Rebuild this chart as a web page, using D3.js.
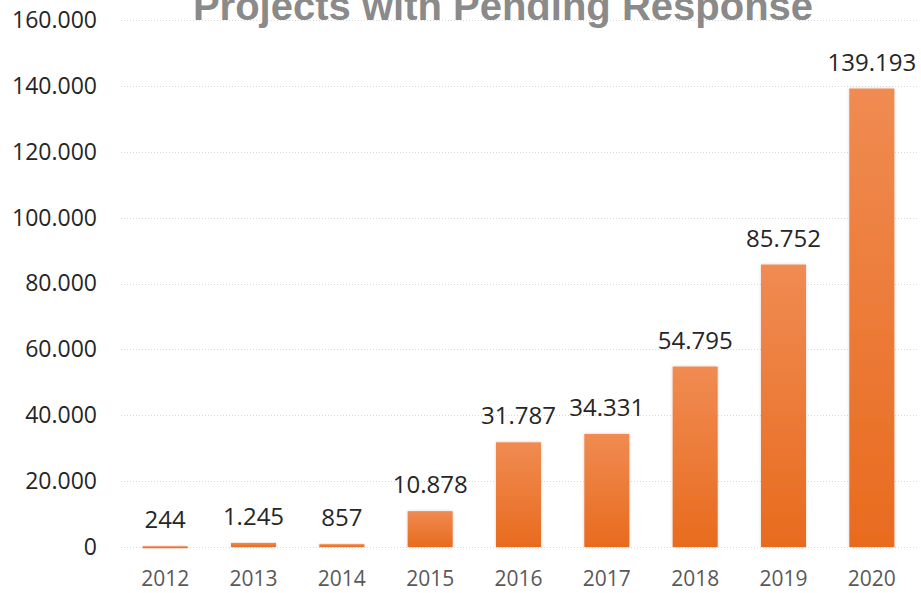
<!DOCTYPE html>
<html>
<head>
<meta charset="utf-8">
<script src="https://cdn.jsdelivr.net/npm/d3@7"></script>
<style>
  html, body { margin: 0; padding: 0; background: #fff; }
  svg { display: block; }
</style>
</head>
<body>
<svg id="chart" width="921" height="593"></svg>
<script>
const title = "Projects with Pending Response";
const years = ["2012", "2013", "2014", "2015", "2016", "2017", "2018", "2019", "2020"];
const pending = [244, 1245, 857, 10878, 31787, 34331, 54795, 85752, 139193];
const yTicks = [0, 20000, 40000, 60000, 80000, 100000, 120000, 140000, 160000];

const svg = d3.select("#chart");
const W = 921, H = 593;
const margin = { left: 121, right: 5, top: 20, bottom: 46 };

const fmt = d3.formatLocale({ decimal: ",", thousands: ".", grouping: [3], currency: ["", ""] }).format(",d");

const x = d3.scaleBand().domain(years).range([margin.left, W - margin.right]).paddingInner(0.49).paddingOuter(0.245);
const y = d3.scaleLinear().domain([0, 160000]).range([H - margin.bottom, margin.top]);

const defs = svg.append("defs");
const grad = defs.append("linearGradient").attr("id", "barGrad").attr("x1", 0).attr("y1", 0).attr("x2", 0).attr("y2", 1);
grad.append("stop").attr("offset", "0%").attr("stop-color", "#f08b52");
grad.append("stop").attr("offset", "100%").attr("stop-color", "#e86b1e");
const f = defs.append("filter").attr("id", "shadow").attr("x", "-20%").attr("y", "-20%").attr("width", "140%").attr("height", "140%");
f.append("feDropShadow").attr("dx", 0).attr("dy", 0).attr("stdDeviation", 1.5).attr("flood-color", "#000").attr("flood-opacity", 0.18);

// gridlines
svg.append("g").selectAll("line").data(yTicks).join("line")
  .attr("x1", margin.left).attr("x2", W - 3)
  .attr("y1", d => Math.round(y(d)) + 0.5).attr("y2", d => Math.round(y(d)) + 0.5)
  .attr("stroke", "#d9d9d9").attr("stroke-width", 1).attr("stroke-dasharray", "1,2");

// y axis labels
const yAxis = d3.axisLeft(y).tickValues(yTicks).tickFormat(fmt).tickSize(0).tickPadding(0);
const gy = svg.append("g").attr("transform", `translate(97,0)`).call(yAxis);
gy.select(".domain").remove();
gy.selectAll("text").attr("font-family", "'Open Sans', sans-serif").attr("font-size", 23).attr("fill", "#262626");

// x axis labels
const xAxis = d3.axisBottom(x).tickSize(0).tickPadding(0);
const gx = svg.append("g").attr("transform", `translate(0,${H - margin.bottom + 24})`).call(xAxis);
gx.select(".domain").remove();
gx.selectAll("text").attr("font-family", "'Open Sans', sans-serif").attr("font-size", 21).attr("fill", "#595959");

// bars
svg.append("g").selectAll("rect").data(pending).join("rect")
  .attr("x", (d, i) => x(years[i]))
  .attr("width", x.bandwidth())
  .attr("y", d => y(d))
  .attr("height", d => Math.max(y(0) - y(d), 2))
  .attr("fill", "url(#barGrad)")
  .attr("filter", "url(#shadow)");

// data labels
svg.append("g").selectAll("text").data(pending).join("text")
  .attr("x", (d, i) => x(years[i]) + x.bandwidth() / 2)
  .attr("y", d => y(d) - 18)
  .attr("text-anchor", "middle")
  .attr("font-family", "'Open Sans', sans-serif")
  .attr("font-size", 24)
  .attr("fill", "#262626")
  .text(d => fmt(d));

// title
svg.append("text")
  .attr("x", 503).attr("y", 20)
  .attr("text-anchor", "middle")
  .attr("font-family", "'Liberation Sans', Arial, sans-serif")
  .attr("font-weight", "bold")
  .attr("font-size", 40)
  .attr("fill", "#8a8a8a")
  .text(title);
</script>
</body>
</html>
